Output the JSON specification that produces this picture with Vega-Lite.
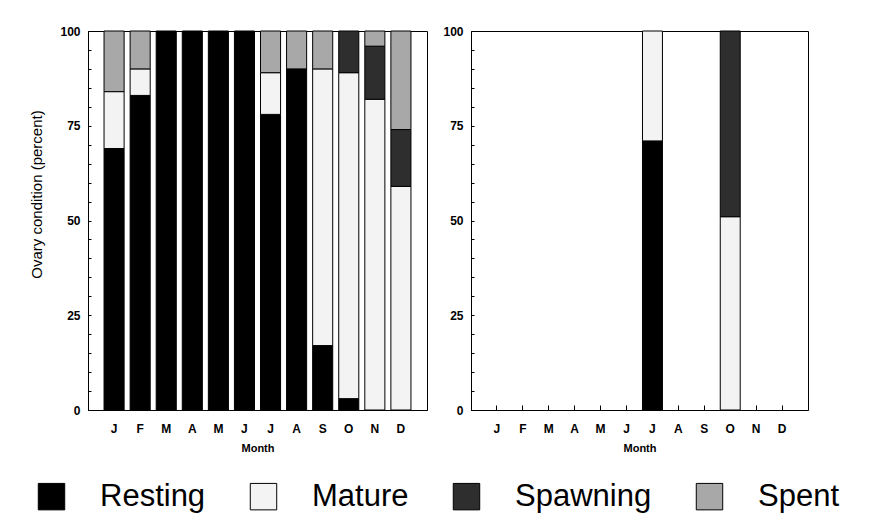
{
  "$schema": "https://vega.github.io/schema/vega-lite/v6.json",
  "background": "white",
  "padding": {"left": 28, "top": 24, "right": 5, "bottom": 5},
  "datasets": {
    "stages": [
      {"stage": "Resting", "rank": 1},
      {"stage": "Mature", "rank": 2},
      {"stage": "Spawning", "rank": 3},
      {"stage": "Spent", "rank": 4}
    ],
    "ovary": [
      {"panel": 1, "month": "Jan", "stage": "Resting", "pct": 69},
      {"panel": 1, "month": "Jan", "stage": "Mature", "pct": 15},
      {"panel": 1, "month": "Jan", "stage": "Spent", "pct": 16},
      {"panel": 1, "month": "Feb", "stage": "Resting", "pct": 83},
      {"panel": 1, "month": "Feb", "stage": "Mature", "pct": 7},
      {"panel": 1, "month": "Feb", "stage": "Spent", "pct": 10},
      {"panel": 1, "month": "Mar", "stage": "Resting", "pct": 100},
      {"panel": 1, "month": "Apr", "stage": "Resting", "pct": 100},
      {"panel": 1, "month": "May", "stage": "Resting", "pct": 100},
      {"panel": 1, "month": "Jun", "stage": "Resting", "pct": 100},
      {"panel": 1, "month": "Jul", "stage": "Resting", "pct": 78},
      {"panel": 1, "month": "Jul", "stage": "Mature", "pct": 11},
      {"panel": 1, "month": "Jul", "stage": "Spent", "pct": 11},
      {"panel": 1, "month": "Aug", "stage": "Resting", "pct": 90},
      {"panel": 1, "month": "Aug", "stage": "Spent", "pct": 10},
      {"panel": 1, "month": "Sep", "stage": "Resting", "pct": 17},
      {"panel": 1, "month": "Sep", "stage": "Mature", "pct": 73},
      {"panel": 1, "month": "Sep", "stage": "Spent", "pct": 10},
      {"panel": 1, "month": "Oct", "stage": "Resting", "pct": 3},
      {"panel": 1, "month": "Oct", "stage": "Mature", "pct": 86},
      {"panel": 1, "month": "Oct", "stage": "Spawning", "pct": 11},
      {"panel": 1, "month": "Nov", "stage": "Mature", "pct": 82},
      {"panel": 1, "month": "Nov", "stage": "Spawning", "pct": 14},
      {"panel": 1, "month": "Nov", "stage": "Spent", "pct": 4},
      {"panel": 1, "month": "Dec", "stage": "Mature", "pct": 59},
      {"panel": 1, "month": "Dec", "stage": "Spawning", "pct": 15},
      {"panel": 1, "month": "Dec", "stage": "Spent", "pct": 26},
      {"panel": 2, "month": "Jul", "stage": "Resting", "pct": 71},
      {"panel": 2, "month": "Jul", "stage": "Mature", "pct": 29},
      {"panel": 2, "month": "Oct", "stage": "Mature", "pct": 51},
      {"panel": 2, "month": "Oct", "stage": "Spawning", "pct": 49}
    ]
  },
  "spacing": 14,
  "hconcat": [
    {
      "width": 339,
      "height": 379,
      "data": {"name": "ovary"},
      "transform": [
        {"filter": "datum.panel == 1"},
        {"lookup": "stage", "from": {"data": {"name": "stages"}, "key": "stage", "fields": ["rank"]}}
      ],
      "mark": {"type": "bar", "stroke": "#000", "strokeWidth": 1},
      "encoding": {
        "x": {
          "field": "month", "type": "nominal",
          "scale": {"domain": ["Jan","Feb","Mar","Apr","May","Jun","Jul","Aug","Sep","Oct","Nov","Dec"], "paddingInner": 0.23, "paddingOuter": 0.615},
          "axis": {"title": "Month", "labelExpr": "substring(datum.label,0,1)", "labelAngle": 0, "tickSize": -5, "labelPadding": 18, "bandPosition": 0.5, "titleFontSize": 11, "titleFontWeight": "bold", "titlePadding": 8}
        },
        "y": {
          "field": "pct", "type": "quantitative", "stack": "zero",
          "scale": {"domain": [0, 100], "nice": false},
          "axis": {"title": "Ovary condition (percent)", "values": [0,5,10,15,20,25,30,35,40,45,50,55,60,65,70,75,80,85,90,95,100], "labelExpr": "datum.value % 25 == 0 ? datum.label : ''", "tickSize": -3, "labelPadding": 11, "labelFlush": false, "titleFontSize": 15, "titleFontWeight": "normal", "titleX": -44, "titleY": 163}
        },
        "order": {"field": "rank", "type": "quantitative", "sort": "ascending"},
        "color": {
          "field": "stage", "type": "nominal",
          "scale": {"domain": ["Resting","Mature","Spawning","Spent"], "range": ["#000000","#f3f3f3","#2e2e2e","#a8a8a8"]},
          "legend": {"title": null, "orient": "none", "direction": "horizontal", "legendX": -52, "legendY": 450, "symbolType": "square", "symbolSize": 700, "symbolStrokeColor": "#000", "symbolStrokeWidth": 1, "symbolOpacity": 1, "labelFontSize": 31, "labelFont": "Liberation Sans", "labelFontWeight": "normal", "labelOffset": 33, "columnPadding": 42, "labelLimit": 300}
        }
      }
    },
    {
      "width": 337,
      "height": 379,
      "data": {"name": "ovary"},
      "transform": [
        {"filter": "datum.panel == 2"},
        {"lookup": "stage", "from": {"data": {"name": "stages"}, "key": "stage", "fields": ["rank"]}}
      ],
      "mark": {"type": "bar", "stroke": "#000", "strokeWidth": 1},
      "encoding": {
        "x": {
          "field": "month", "type": "nominal",
          "scale": {"domain": ["Jan","Feb","Mar","Apr","May","Jun","Jul","Aug","Sep","Oct","Nov","Dec"], "paddingInner": 0.23, "paddingOuter": 0.615},
          "axis": {"title": "Month", "labelExpr": "substring(datum.label,0,1)", "labelAngle": 0, "tickSize": -5, "labelPadding": 18, "bandPosition": 0.5, "titleFontSize": 11, "titleFontWeight": "bold", "titlePadding": 8}
        },
        "y": {
          "field": "pct", "type": "quantitative", "stack": "zero",
          "scale": {"domain": [0, 100], "nice": false},
          "axis": {"title": null, "values": [0,5,10,15,20,25,30,35,40,45,50,55,60,65,70,75,80,85,90,95,100], "labelExpr": "datum.value % 25 == 0 ? datum.label : ''", "tickSize": -3, "labelPadding": 11, "labelFlush": false}
        },
        "order": {"field": "rank", "type": "quantitative", "sort": "ascending"},
        "color": {"field": "stage", "type": "nominal"}
      }
    }
  ],
  "resolve": {"scale": {"color": "shared"}},
  "config": {
    "font": "Liberation Sans",
    "view": {"stroke": "#000", "strokeWidth": 1},
    "axis": {"domainColor": "#000", "tickColor": "#000", "labelColor": "#000", "titleColor": "#000", "grid": false, "labelFont": "Liberation Sans", "labelFontWeight": "bold", "labelFontSize": 12, "titleFont": "Liberation Sans"},
    "legend": {"labelColor": "#000"}
  }
}
